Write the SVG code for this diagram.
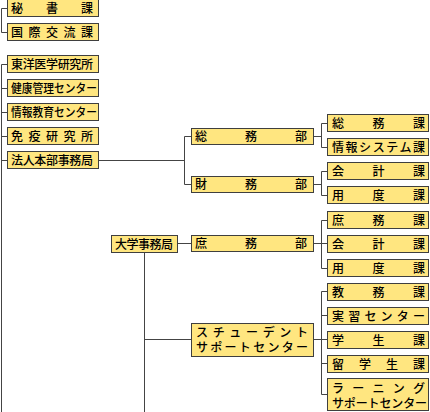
<svg xmlns="http://www.w3.org/2000/svg" width="430" height="412" viewBox="0 0 430 412">
<style>
rect{fill:#FFE680;stroke:#3f3f3f;stroke-width:1}
text{font-family:"Noto Sans CJK JP","Noto Sans CJK SC",sans-serif;font-size:12px;font-weight:500;fill:#000}
.c{fill:none;stroke:#444;stroke-width:1}
</style>
<rect width="430" height="412" style="fill:#fff;stroke:none"/>
<g id="connectors">
<path class="c" d="M1.5,8.5V32.5M1.5,8.5H7.5M1.5,32.5H7.5
M1.5,64.5V412M1.5,64.5H7.5M1.5,88.5H7.5M1.5,112.5H7.5M1.5,136.5H7.5M1.5,160.5H7.5
M98.5,160.5H184.5M184.5,136.5V184.5M184.5,136.5H191.5M184.5,184.5H191.5
M313.5,136.5H321.5M321.5,123.5V147.5M321.5,123.5H327.5M321.5,147.5H327.5
M313.5,184.5H321.5M321.5,171.5V195.5M321.5,171.5H327.5M321.5,195.5H327.5
M177.5,243.5H191.5M313.5,243.5H321.5M321.5,220.5V268.5M321.5,220.5H327.5M321.5,243.5H327.5M321.5,268.5H327.5
M144.5,252.5V412M144.5,339.5H191.5M313.5,339.5H321.5M321.5,291.5V394.5M321.5,291.5H327.5M321.5,315.5H327.5M321.5,339.5H327.5M321.5,363.5H327.5M321.5,394.5H327.5"/>
</g>
<g id="n-hisho"><rect x="7.5" y="-0.5" width="91" height="17"/><text x="11" y="12.5" textLength="82">秘書課</text></g>
<g id="n-kokusai"><rect x="7.5" y="23.5" width="91" height="17"/><text x="11" y="36.5" textLength="82">国際交流課</text></g>
<g id="n-toyo"><rect x="7.5" y="55.5" width="91" height="17"/><text x="11" y="68.5" textLength="82">東洋医学研究所</text></g>
<g id="n-kenko"><rect x="7.5" y="79.5" width="91" height="17"/><text x="11" y="92.5" textLength="86" lengthAdjust="spacingAndGlyphs">健康管理センター</text></g>
<g id="n-joho"><rect x="7.5" y="103.5" width="91" height="17"/><text x="11" y="116.5" textLength="86" lengthAdjust="spacingAndGlyphs">情報教育センター</text></g>
<g id="n-meneki"><rect x="7.5" y="127.5" width="91" height="17"/><text x="11" y="140.5" textLength="82">免疫研究所</text></g>
<g id="n-hojin"><rect x="7.5" y="151.5" width="91" height="17"/><text x="11" y="164.5" textLength="82">法人本部事務局</text></g>
<g id="n-somubu"><rect x="191.5" y="128.5" width="122" height="16"/><text x="195" y="141" textLength="112">総務部</text></g>
<g id="n-zaimubu"><rect x="191.5" y="176.5" width="122" height="16"/><text x="195" y="189" textLength="112">財務部</text></g>
<g id="n-daigaku"><rect x="111.5" y="235.5" width="66" height="17"/><text x="115" y="248.5" textLength="58">大学事務局</text></g>
<g id="n-shomubu"><rect x="191.5" y="235.5" width="122" height="16"/><text x="195" y="248" textLength="112">庶務部</text></g>
<g id="n-student"><rect x="191.5" y="323.5" width="122" height="33"/><text><tspan x="196" y="337" textLength="112">スチューデント</tspan><tspan x="196" y="352" textLength="112">サポートセンター</tspan></text></g>
<g id="n-somuka"><rect x="327.5" y="114.5" width="101" height="17"/><text x="332" y="127.5" textLength="93">総務課</text></g>
<g id="n-johosys"><rect x="327.5" y="138.5" width="101" height="17"/><text x="332" y="151.5" textLength="93">情報システム課</text></g>
<g id="n-kaikei1"><rect x="327.5" y="162.5" width="101" height="17"/><text x="332" y="175.5" textLength="93">会計課</text></g>
<g id="n-yodo1"><rect x="327.5" y="186.5" width="101" height="17"/><text x="332" y="199.5" textLength="93">用度課</text></g>
<g id="n-shomuka"><rect x="327.5" y="211.5" width="101" height="17"/><text x="332" y="224.5" textLength="93">庶務課</text></g>
<g id="n-kaikei2"><rect x="327.5" y="235.5" width="101" height="17"/><text x="332" y="248.5" textLength="93">会計課</text></g>
<g id="n-yodo2"><rect x="327.5" y="259.5" width="101" height="17"/><text x="332" y="272.5" textLength="93">用度課</text></g>
<g id="n-kyomu"><rect x="327.5" y="283.5" width="101" height="17"/><text x="332" y="296.5" textLength="93">教務課</text></g>
<g id="n-jisshu"><rect x="327.5" y="307.5" width="101" height="17"/><text x="332" y="320.5" textLength="93">実習センター</text></g>
<g id="n-gakusei"><rect x="327.5" y="331.5" width="101" height="17"/><text x="332" y="344.5" textLength="93">学生課</text></g>
<g id="n-ryugaku"><rect x="327.5" y="355.5" width="101" height="17"/><text x="332" y="368.5" textLength="93">留学生課</text></g>
<g id="n-learning"><rect x="327.5" y="378.5" width="101" height="32"/><text><tspan x="332" y="392.5" textLength="93">ラーニング</tspan><tspan x="332" y="407.5" textLength="95">サポートセンター</tspan></text></g>
</svg>
